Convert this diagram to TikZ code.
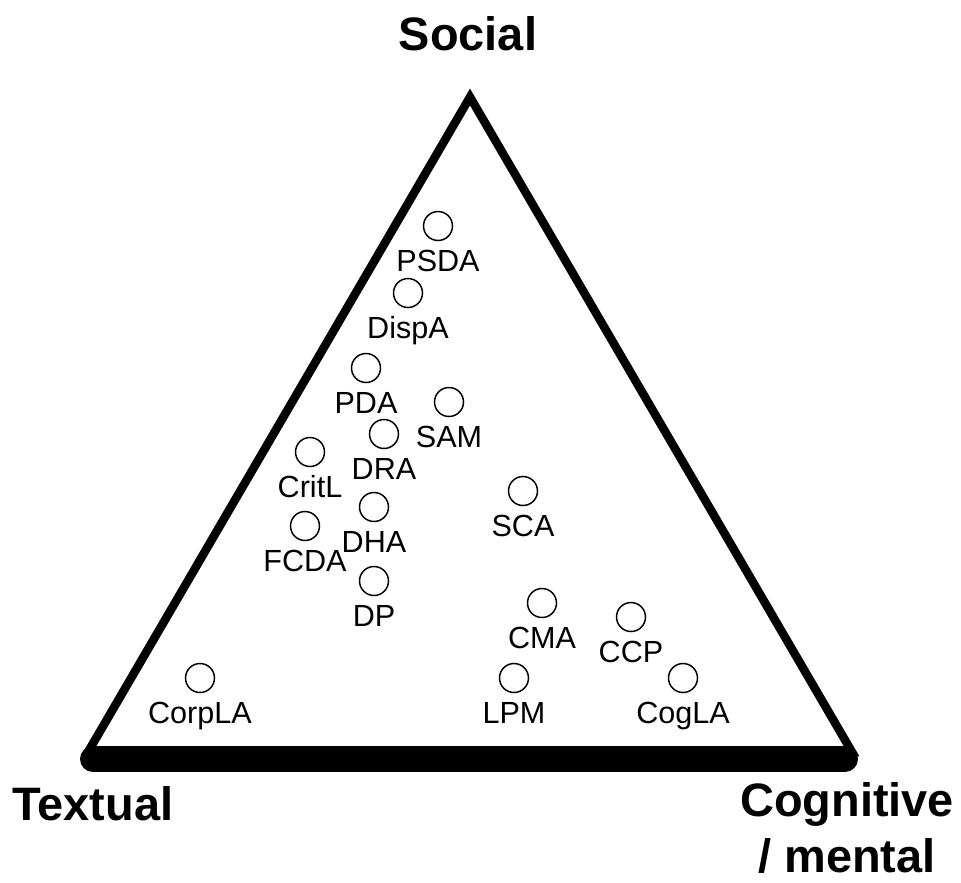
\documentclass[tikz,border=0pt]{standalone}
\usepackage{fontspec}
\setmainfont{Liberation Sans}
\usetikzlibrary{positioning}
\begin{document}
\begin{tikzpicture}[x=0.02cm, y=-0.02cm,
		pt/.style={circle, draw, line width=0.85pt, minimum size=0.58cm, inner sep=0},
		lbl/.style={inner sep=0, text height=0.44cm, text depth=0.13cm, font=\fontsize{17.4}{20}\selectfont},
		corner/.style={inner sep=0, font=\fontsize{26.7}{32}\selectfont\bfseries, align=center}]
		\useasboundingbox (0,0) rectangle (961,883);
		\coordinate (apex) at (470,97);
		\coordinate (bl) at (88,752);
		\coordinate (br) at (852,752);
		\coordinate (barl) at (93,759);
		\coordinate (barr) at (845,759);
		\draw[line width=0.17cm] (apex) -- (bl) -- (br) -- cycle;
		\draw[line width=0.52cm, line cap=round] (barl) -- (barr);
		\node[corner, anchor=base] (social) at (468,50) {Social};
		\node[corner, anchor=base] (textual) at (93,820) {Textual};
		\node[corner, anchor=north] (cognitive) at (847,782) {Cognitive\\/ mental};
		\node[pt] (psda) at (438,226) {};
		\node[lbl, below=0.16cm of psda] (psdal) {PSDA};
		\node[pt] (dispa) at (408,293) {};
		\node[lbl, below=0.16cm of dispa] (dispal) {DispA};
		\node[pt] (pda) at (366,368) {};
		\node[lbl, below=0.16cm of pda] (pdal) {PDA};
		\node[pt] (sam) at (449,402) {};
		\node[lbl, below=0.16cm of sam] (saml) {SAM};
		\node[pt] (dra) at (384,434) {};
		\node[lbl, below=0.16cm of dra] (dral) {DRA};
		\node[pt] (critl) at (310,452) {};
		\node[lbl, below=0.16cm of critl] (critll) {CritL};
		\node[pt] (dha) at (374,507) {};
		\node[lbl, below=0.16cm of dha] (dhal) {DHA};
		\node[pt] (fcda) at (305,526) {};
		\node[lbl, below=0.16cm of fcda] (fcdal) {FCDA};
		\node[pt] (dp) at (374,581) {};
		\node[lbl, below=0.16cm of dp] (dpl) {DP};
		\node[pt] (sca) at (523,491) {};
		\node[lbl, below=0.16cm of sca] (scal) {SCA};
		\node[pt] (cma) at (542,603) {};
		\node[lbl, below=0.16cm of cma] (cmal) {CMA};
		\node[pt] (ccp) at (631,617) {};
		\node[lbl, below=0.16cm of ccp] (ccpl) {CCP};
		\node[pt] (lpm) at (514,678) {};
		\node[lbl, below=0.16cm of lpm] (lpml) {LPM};
		\node[pt] (corpla) at (200,678) {};
		\node[lbl, below=0.16cm of corpla] (corplal) {CorpLA};
		\node[pt] (cogla) at (683,678) {};
		\node[lbl, below=0.16cm of cogla] (coglal) {CogLA};
	\end{tikzpicture}
\end{document}
